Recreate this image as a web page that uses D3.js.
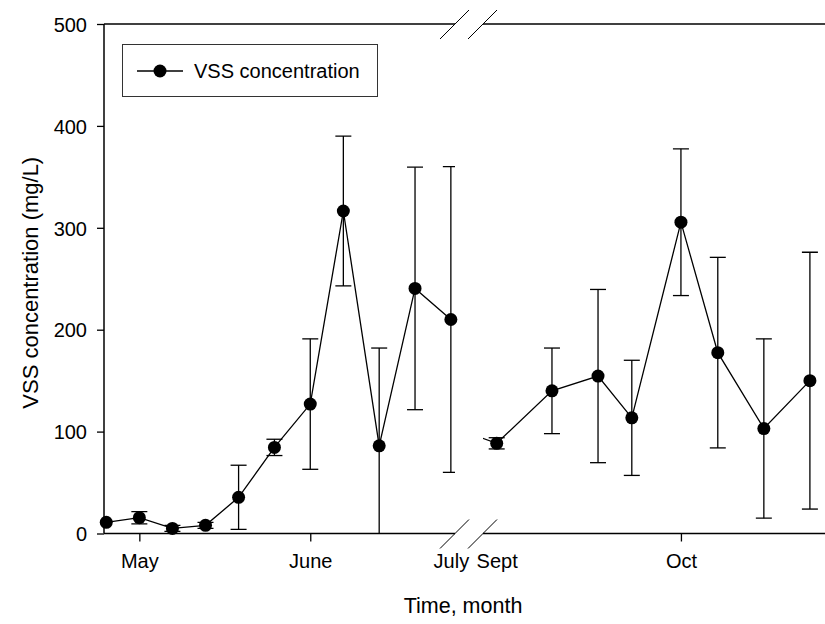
<!DOCTYPE html>
<html><head><meta charset="utf-8">
<script src="https://cdn.jsdelivr.net/npm/d3@7"></script>
<style>
body{margin:0;background:#fff;}
text{font-family:Arial,"Liberation Sans",sans-serif;fill:#000;}
</style></head>
<body><svg id="c" width="825" height="624"></svg>
<script>
// Data (x = sampling day counted from 1 May)
const days1 = [-6, 0, 6, 12, 18, 24.5, 31, 37, 43.5, 50, 56.5];
const vss1  = [11, 15.5, 5, 8, 35.5, 84.5, 127, 316.5, 86, 240.5, 210];
const err1  = [0, 6, 3, 3, 31.5, 8, 64, 73.5, 96, 119, 150];
const days2 = [120, 123, 132, 139.5, 145, 153, 159, 166.5, 174];
const vss2  = [93.5, 88.5, 140, 154.5, 113.5, 305.5, 177.5, 103, 150];
const err2  = [0, 5.5, 42, 85, 56.5, 72, 93.5, 88, 126];
const monthTicks = [0, 31, 56.5, 123, 153];
const monthLabels = ["May", "June", "July", "Sept", "Oct"];
const monthTickMarks = [true, true, false, false, true];
const yTicks = [0, 100, 200, 300, 400, 500];
const seriesName = "VSS concentration";

const svg = d3.select("#c");
const L = 104, R = 840, T = 24, B = 533.5;
const brkA = 455, brkB = 483;
const x = d3.scaleLinear()
  .domain([-6.41, 57.25, 120.77, 178.9])
  .range([L, brkA, brkB, R]);
const y = d3.scaleLinear().domain([0, 500]).range([B, T]);

const defs = svg.append("defs");
defs.append("clipPath").attr("id","c1").append("rect")
  .attr("x", L).attr("y", T).attr("width", brkA - L).attr("height", B - T);
defs.append("clipPath").attr("id","c2").append("rect")
  .attr("x", brkB).attr("y", T).attr("width", R - brkB).attr("height", B - T);

// axes
const yAxis = d3.axisLeft(y).tickValues(yTicks).tickSize(7).tickPadding(10);
const gy = svg.append("g").attr("transform", `translate(${L},0)`).call(yAxis);
gy.select(".domain").remove();
gy.selectAll("line").attr("stroke","#000").attr("stroke-width",1.3);
gy.selectAll("text").style("font-size","20px").attr("dy","0.36em");

const xAxis = d3.axisBottom(x).tickValues(monthTicks)
  .tickFormat((d,i) => monthLabels[i]).tickSize(8).tickPadding(12);
const gx = svg.append("g").attr("transform", `translate(0,${B})`).call(xAxis);
gx.select(".domain").remove();
gx.selectAll(".tick line").attr("stroke","#000").attr("stroke-width",1.3)
  .attr("display", (d,i) => monthTickMarks[i] ? null : "none");
gx.selectAll("text").style("font-size","20px");

// frame lines
const frame = svg.append("g").attr("stroke","#000").attr("stroke-width",1.5).attr("fill","none");
frame.append("line").attr("x1",L).attr("x2",L).attr("y1",T).attr("y2",B);
[T, B].forEach(yy => {
  frame.append("line").attr("x1",L).attr("x2",brkA).attr("y1",yy).attr("y2",yy);
  frame.append("line").attr("x1",brkB).attr("x2",R).attr("y1",yy).attr("y2",yy);
  [brkA, brkB].forEach(xx => {
    svg.append("line").attr("x1",xx-15).attr("y1",yy+15).attr("x2",xx+14).attr("y2",yy-14)
      .attr("stroke","#000").attr("stroke-width",1);
  });
});

function drawSeries(days, vals, errs, clip, x0, x1) {
  const pts = days.map((d,i) => ({d, v: vals[i], e: errs[i]}));
  const g = svg.append("g").attr("clip-path", `url(#${clip})`);
  const line = d3.line().x(p => x(p.d)).y(p => y(p.v));
  g.append("path").datum(pts).attr("d", line)
    .attr("fill","none").attr("stroke","#000").attr("stroke-width",1.3);
  const eb = g.selectAll(".eb").data(pts.filter(p => p.e > 0)).enter().append("g")
    .attr("stroke","#000").attr("stroke-width",1.3);
  eb.append("line").attr("x1",p=>x(p.d)).attr("x2",p=>x(p.d))
    .attr("y1",p=>y(p.v+p.e)).attr("y2",p=>y(p.v-p.e));
  eb.append("line").attr("x1",p=>x(p.d)-8).attr("x2",p=>x(p.d)+8)
    .attr("y1",p=>y(p.v+p.e)).attr("y2",p=>y(p.v+p.e));
  eb.append("line").attr("x1",p=>x(p.d)-8).attr("x2",p=>x(p.d)+8)
    .attr("y1",p=>y(p.v-p.e)).attr("y2",p=>y(p.v-p.e));
  svg.append("g").selectAll(".pt")
    .data(pts.filter(p => x(p.d) >= x0 && x(p.d) <= x1)).enter().append("circle")
    .attr("cx",p=>x(p.d)).attr("cy",p=>y(p.v)).attr("r",6.5).attr("fill","#000");
}
drawSeries(days1, vss1, err1, "c1", L, brkA);
drawSeries(days2, vss2, err2, "c2", brkB, R);

// legend
const lg = svg.append("g");
lg.append("rect").attr("x",122.5).attr("y",44.5).attr("width",255).attr("height",52)
  .attr("fill","#fff").attr("stroke","#333").attr("stroke-width",1);
lg.append("line").attr("x1",137).attr("x2",183).attr("y1",71).attr("y2",71)
  .attr("stroke","#000").attr("stroke-width",1.3);
lg.append("circle").attr("cx",160).attr("cy",71).attr("r",6.5).attr("fill","#000");
lg.append("text").attr("x",194).attr("y",71).attr("dy","0.36em")
  .style("font-size","20px").text(seriesName);

// titles
svg.append("text").attr("x",463).attr("y",605).attr("dy","0.36em")
  .attr("text-anchor","middle").style("font-size","21.5px").text("Time, month");
svg.append("text").attr("transform",`translate(30,${(T+B)/2 + 4}) rotate(-90)`)
  .attr("dy","0.36em").attr("text-anchor","middle").style("font-size","22px")
  .text("VSS concentration (mg/L)");
</script></body></html>
